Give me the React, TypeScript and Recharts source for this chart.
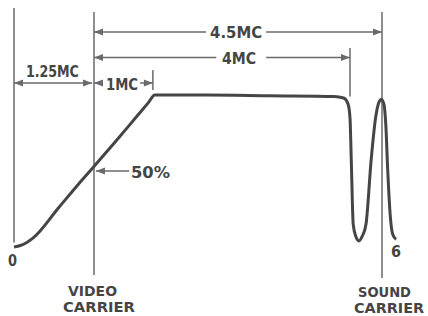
import { LineChart, Line, XAxis, YAxis, ReferenceLine, ReferenceDot } from 'recharts';

// response curve: frequency in MC from the channel's low edge, relative level 0..1
const freqMC = [0, 0.1, 0.2, 0.3, 0.7, 1.0, 1.25, 1.6, 1.9, 2.1, 2.2, 3.0, 4.0, 5.0, 5.15, 5.22, 5.25, 5.27, 5.3, 5.34, 5.39, 5.44, 5.5, 5.58, 5.65, 5.7, 5.74, 5.78, 5.81, 5.84, 5.88, 5.92, 5.97];
const level = [0.0, 0.01, 0.03, 0.06, 0.26, 0.41, 0.53, 0.7, 0.85, 0.95, 1.0, 1.0, 0.995, 0.99, 0.98, 0.94, 0.85, 0.57, 0.15, 0.07, 0.04, 0.07, 0.15, 0.57, 0.85, 0.95, 0.97, 0.94, 0.8, 0.5, 0.2, 0.08, 0.05];

const data = freqMC.map((f, i) => ({ f, v: level[i] }));

// carrier / edge verticals (x in MC, y from..to in level units)
const verticals = [
  { x: 0, y1: 1.572, y2: 0.03 },
  { x: 1.25, y1: 1.546, y2: -0.184 },
  { x: 2.17, y1: 1.164, y2: 1.033 },
  { x: 5.25, y1: 1.309, y2: 0.99 },
  { x: 5.75, y1: 1.546, y2: -0.204 },
];

// dimension arrows: from x1 to x2 at level y; head at start / end
const dims = [
  { x1: 0, x2: 1.22, y: 1.079, start: true, end: true },
  { x1: 1.25, x2: 1.39, y: 1.079, start: true, end: false },
  { x1: 1.97, x2: 2.17, y: 1.079, start: false, end: true },
  { x1: 1.25, x2: 3.0, y: 1.414, start: true, end: false },
  { x1: 3.94, x2: 5.75, y: 1.414, start: false, end: true },
  { x1: 1.25, x2: 3.16, y: 1.247, start: true, end: false },
  { x1: 3.94, x2: 5.25, y: 1.247, start: false, end: true },
  { x1: 1.28, x2: 1.8, y: 0.5, start: true, end: false },
];

// text labels: x centre (MC), baseline level, text, width px
const labels = [
  { x: 0.6, y: 1.118, text: '1.25MC', w: 53, anchor: 'middle', size: 16 },
  { x: 1.6875, y: 1.033, text: '1MC', w: 32, anchor: 'middle', size: 16 },
  { x: 3.47, y: 1.375, text: '4.5MC', w: 52, anchor: 'middle', size: 16 },
  { x: 3.516, y: 1.204, text: '4MC', w: 34, anchor: 'middle', size: 16 },
  { x: 1.828, y: 0.454, text: '50%', w: 39, anchor: 'start', size: 16 },
  { x: -0.023, y: -0.125, text: '0', w: 9, anchor: 'middle', size: 16 },
  { x: 5.969, y: -0.066, text: '6', w: 10, anchor: 'middle', size: 16 },
  { x: 1.227, y: -0.322, text: 'VIDEO', w: 49, anchor: 'middle', size: 14 },
  { x: 1.328, y: -0.425, text: 'CARRIER', w: 72, anchor: 'middle', size: 14 },
  { x: 5.789, y: -0.329, text: 'SOUND', w: 53, anchor: 'middle', size: 14 },
  { x: 5.86, y: -0.432, text: 'CARRIER', w: 70, anchor: 'middle', size: 14 },
];

const INK = '#454545';
const THIN = '#6a6a6a';

function Arrow(props: any, start: boolean, end: boolean) {
  const { x1, y1, x2, y2 } = props;
  const L = 9;
  const H = 3.5;
  const dir = x2 >= x1 ? 1 : -1;
  return (
    <g>
      <line x1={x1} y1={y1} x2={x2} y2={y2} stroke={THIN} strokeWidth={1.5} />
      {start && (
        <polygon
          points={`${x1},${y1} ${x1 + dir * L},${y1 - H} ${x1 + dir * L},${y1 + H}`}
          fill={THIN}
        />
      )}
      {end && (
        <polygon
          points={`${x2},${y2} ${x2 - dir * L},${y2 - H} ${x2 - dir * L},${y2 + H}`}
          fill={THIN}
        />
      )}
    </g>
  );
}

export default function App() {
  return (
    <div style={{ position: 'absolute', left: 0, top: 0, background: '#fff' }}>
      <LineChart width={428} height={316} data={data} margin={{ top: 0, right: 0, bottom: 0, left: 0 }}>
        <XAxis dataKey="f" type="number" domain={[-0.21875, 6.46875]} allowDataOverflow hide />
        <YAxis type="number" domain={[-0.454, 1.625]} allowDataOverflow hide />
        {verticals.map((v, i) => (
          <ReferenceLine
            key={'v' + i}
            segment={[{ x: v.x, y: v.y1 }, { x: v.x, y: v.y2 }]}
            stroke={THIN}
            strokeWidth={1.5}
          />
        ))}
        {dims.map((d, i) => (
          <ReferenceLine
            key={'d' + i}
            segment={[{ x: d.x1, y: d.y }, { x: d.x2, y: d.y }]}
            shape={(p: any) => Arrow(p, d.start, d.end)}
          />
        ))}
        <Line
          type="monotone"
          dataKey="v"
          stroke={INK}
          strokeWidth={3}
          dot={false}
          activeDot={false}
          isAnimationActive={false}
        />
        {labels.map((t, i) => (
          <ReferenceDot
            key={'t' + i}
            x={t.x}
            y={t.y}
            r={0}
            shape={(p: any) => (
              <text
                x={p.cx}
                y={p.cy}
                textAnchor={t.anchor as any}
                fontFamily="'DejaVu Sans Condensed', 'DejaVu Sans', sans-serif"
                fontWeight="bold"
                fontSize={t.size}
                fill={INK}
                textLength={t.w}
                lengthAdjust="spacingAndGlyphs"
              >
                {t.text}
              </text>
            )}
          />
        ))}
      </LineChart>
    </div>
  );
}
